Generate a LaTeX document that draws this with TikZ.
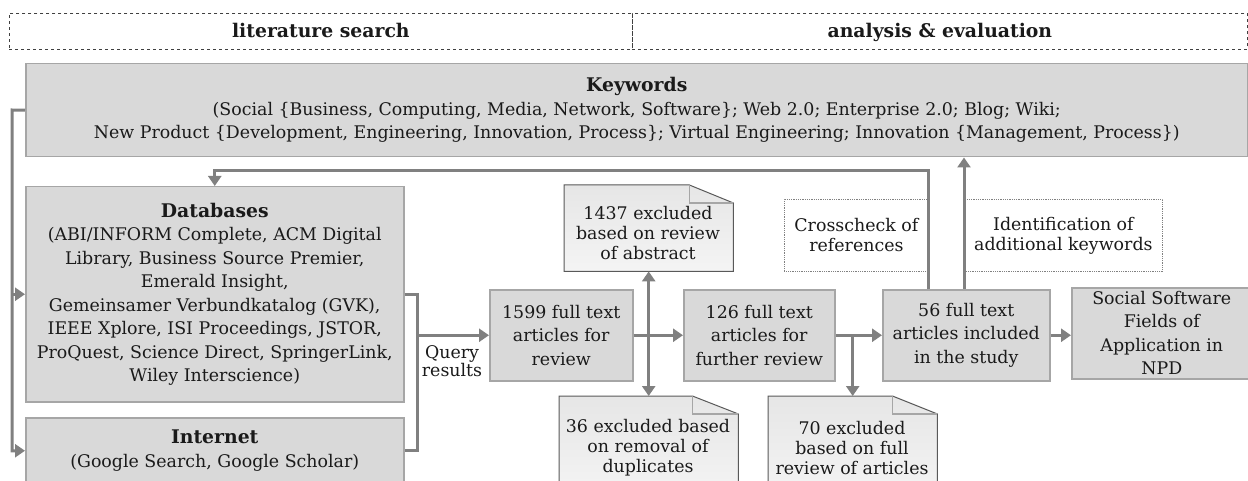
\documentclass[tikz,border=0pt]{standalone}
\usepackage{fontspec}
\setmainfont{DejaVu Serif}
\usetikzlibrary{arrows.meta,backgrounds}
\definecolor{boxfill}{HTML}{D9D9D9}
\definecolor{boxline}{HTML}{A6A6A6}
\definecolor{conn}{HTML}{808080}
\definecolor{txt}{HTML}{1A1A1A}
\definecolor{noteline}{HTML}{595959}
\definecolor{notetop}{HTML}{E6E6E6}
\definecolor{notebot}{HTML}{F4F4F4}
\newcommand{\bhead}[1]{{\fontsize{18.8}{23.5}\selectfont\bfseries #1}}
\begin{document}
\begin{tikzpicture}[x=1pt,y=-1pt,
  font=\fontsize{17.4}{23.5}\selectfont, text=txt,
  gbox/.style={draw=boxline, line width=1.5pt, fill=boxfill, anchor=north west, inner sep=0pt, align=center},
  dotbox/.style={draw=conn, line width=0.8pt, densely dotted, anchor=north west, inner sep=0pt, align=center, font=\fontsize{17.4}{20}\selectfont},
  hdr/.style={draw=black!75, line width=0.7pt, dashed, anchor=north west, inner sep=0pt, text height=15pt, text depth=3pt, font=\fontsize{18.8}{20}\selectfont\bfseries},
  notebox/.style={anchor=north west, inner sep=0pt},
  notetext/.style={align=center, inner sep=0pt, font=\fontsize{17.4}{20}\selectfont},
  noteshape/.style={draw=noteline, line width=1pt, top color=notetop, bottom color=notebot},
  flap/.style={draw=boxline, line width=1.5pt},
  conn/.style={draw=conn, line width=3pt},
  arr/.style={conn, -{Triangle[width=13pt,length=10pt]}}
]
\useasboundingbox (0,0) rectangle (1248,481);

% header
\node[hdr, minimum width=623, minimum height=36] (h1) at (9,13) {literature search};
\node[hdr, minimum width=615, minimum height=36] (h2) at (632,13) {analysis \& evaluation};

% keywords
\node[gbox, minimum width=1222, minimum height=93] (kw) at (25,63)
  {\bhead{Keywords}\\
   (Social \{Business, Computing, Media, Network, Software\}; Web 2.0; Enterprise 2.0; Blog; Wiki;\\
   New Product \{Development, Engineering, Innovation, Process\}; Virtual Engineering; Innovation \{Management, Process\})};

% sources
\node[gbox, minimum width=378, minimum height=215] (db) at (25,186)
  {\bhead{Databases}\\
   (ABI/INFORM Complete, ACM Digital\\
   Library, Business Source Premier,\\
   Emerald Insight,\\
   Gemeinsamer Verbundkatalog (GVK),\\
   IEEE Xplore, ISI Proceedings, JSTOR,\\
   ProQuest, Science Direct, SpringerLink,\\
   Wiley Interscience)};
\node[gbox, minimum width=378, minimum height=66] (inet) at (25,417)
  {\bhead{Internet}\\(Google Search, Google Scholar)};

% flow boxes
\node[gbox, minimum width=143, minimum height=91] (n1599) at (489,289) {1599 full text\\articles for\\review};
\node[gbox, minimum width=151, minimum height=91] (n126) at (683,289) {126 full text\\articles for\\further review};
\node[gbox, minimum width=167, minimum height=91] (n56) at (882,289) {56 full text\\articles included\\in the study};
\node[gbox, minimum width=180, minimum height=91] (nss) at (1071,287) {Social Software\\Fields of\\Application in\\NPD};

% dotted boxes
\node[dotbox, minimum width=144, minimum height=72] (cc) at (784,199) {Crosscheck of\\references};
\node[dotbox, minimum width=198, minimum height=72] (id) at (964,199) {Identification of\\additional keywords};

% notes
\node[notebox, minimum width=169, minimum height=86] (n1437) at (564,185) {};
\node[notebox, minimum width=179, minimum height=100] (n36) at (559,396) {};
\node[notebox, minimum width=169, minimum height=100] (n70) at (768,396) {};
\begin{scope}[on background layer]
\fill[white] (0,0) rectangle (1248,481);
\foreach \n/\w in {n1437/44, n36/46, n70/45}{
  \path[noteshape] (\n.north west) -- ([xshift=-\w pt]\n.north east) -- ([yshift=-18pt]\n.north east)
    -- (\n.south east) -- (\n.south west) -- cycle;
  \draw[flap] ([xshift=-\w pt]\n.north east) -- ([xshift=-\w pt,yshift=-18pt]\n.north east) -- ([yshift=-18pt]\n.north east);
}
\end{scope}
\node[notetext] (t1437) at (648,233) {1437 excluded\\based on review\\of abstract};
\node[notetext] (t36) at (648,448) {36 excluded based\\on removal of\\duplicates};
\node[notetext] (t70) at (852,448) {70 excluded\\based on full\\review of articles};

\node[align=center, inner sep=0pt, font=\fontsize{17.4}{18}\selectfont] (qr) at (452,361) {Query\\results};

% connectors
\coordinate (L) at (12,110);
\draw[arr] (kw.west) -- (L) |- (inet.west);
\draw[arr] (L |- db.west) -- (db.west);
\coordinate (R) at (417,335);
\draw[conn] (db.east) -- (R |- db.east) |- (inet.east);
\draw[arr] (R |- n1599.west) -- (n1599.west);
\draw[arr] (n1599.east) -- (n126.west);
\coordinate (V1) at (n1437.south |- n1599.east);
\draw[arr] (V1) -- (n1437.south);
\draw[arr] (V1) -- (n36.north);
\draw[arr] (n126.east) -- (n56.west);
\coordinate (V2) at (n70.north |- n126.east);
\draw[arr] (V2) -- (n70.north);
\draw[arr] (n56.east) -- (n56.east -| nss.west);
\coordinate (T1) at (928,171);
\draw[arr] (n56.north -| T1) -- (T1) -| (db.north);
\coordinate (T2) at (964,171);
\draw[arr] (n56.north -| T2) -- (kw.south -| T2);
\end{tikzpicture}
\end{document}
